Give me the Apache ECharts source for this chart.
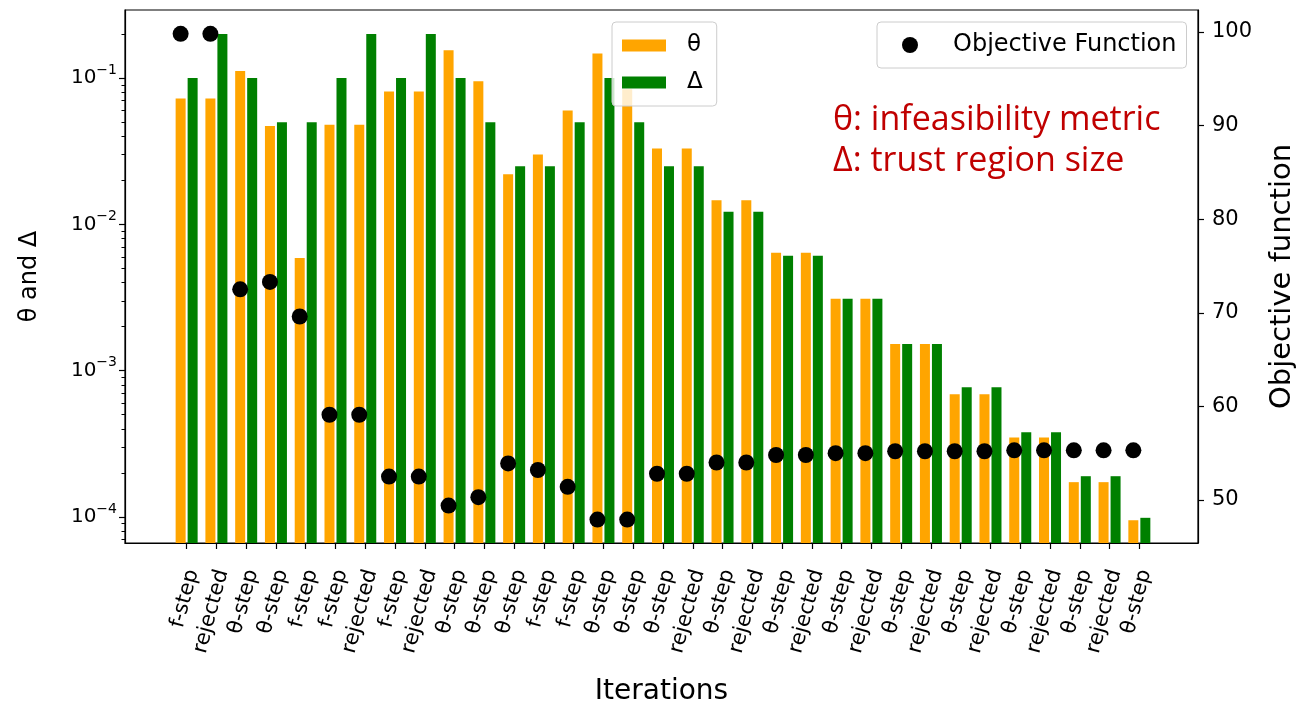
<!DOCTYPE html>
<html><head><meta charset="utf-8">
<script src="https://cdn.jsdelivr.net/npm/echarts@6/dist/echarts.min.js"></script>
<style>html,body{margin:0;padding:0;background:#fff}#c{width:1297px;height:707px}</style>
</head><body><div id="c"></div>
<script>
const categories = ['f-step','rejected','θ-step','θ-step','f-step','f-step','rejected','f-step','rejected','θ-step','θ-step','θ-step','f-step','f-step','θ-step','θ-step','θ-step','rejected','θ-step','rejected','θ-step','rejected','θ-step','rejected','θ-step','rejected','θ-step','rejected','θ-step','rejected','θ-step','rejected','θ-step'];
const theta = [0.0726,0.0726,0.112,0.047,0.0059,0.048,0.048,0.081,0.081,0.155,0.095,0.022,0.030,0.060,0.147,0.084,0.033,0.033,0.0146,0.0146,0.0064,0.0064,0.0031,0.0031,0.00152,0.00152,0.00069,0.00069,0.00035,0.00035,0.000173,0.000173,0.000095];
const delta = [0.1,0.2,0.1,0.05,0.05,0.1,0.2,0.1,0.2,0.1,0.05,0.025,0.025,0.05,0.1,0.05,0.025,0.025,0.0122,0.0122,0.0061,0.0061,0.0031,0.0031,0.00152,0.00152,0.00077,0.00077,0.00038,0.00038,0.00019,0.00019,0.0000987];
const objective = [99.8,99.8,72.5,73.3,69.6,59.1,59.1,52.5,52.5,49.4,50.3,53.9,53.2,51.4,47.9,47.9,52.8,52.8,54.0,54.0,54.8,54.8,55.0,55.0,55.2,55.2,55.2,55.2,55.3,55.3,55.3,55.3,55.3];
const leftMajorTicks = [1e-4,1e-3,1e-2,1e-1];
const leftMinorTicks = [7e-5,8e-5,9e-5,2e-4,3e-4,4e-4,5e-4,6e-4,7e-4,8e-4,9e-4,2e-3,3e-3,4e-3,5e-3,6e-3,7e-3,8e-3,9e-3,2e-2,3e-2,4e-2,5e-2,6e-2,7e-2,8e-2,9e-2,2e-1];
const rightTicks = [50,60,70,80,90,100];

const idx = categories.map((_, i) => i);
const FONT = 'DejaVu Sans';
const Y_MIN = 6.64e-5, Y_MAX = 0.292;
const X_MIN = -2.07, X_MAX = 33.97;
const LABEL_SHIFT = 0.2;

const chart = echarts.init(document.getElementById('c'), null, {renderer: 'canvas'});
const option = {
  animation: false,
  grid: {left: 125, right: 99, top: 10, bottom: 164, outerBoundsMode: 'none', containLabel: false,
         show: true, borderColor: '#000', borderWidth: 1.2, backgroundColor: 'transparent'},
  xAxis: [
    {type: 'value', min: X_MIN, max: X_MAX, position: 'bottom',
     axisLine: {show: true, onZero: false, lineStyle: {color: '#000', width: 1.2}},
     axisTick: {show: true, customValues: idx, length: 6, lineStyle: {color: '#000', width: 1.2}},
     axisLabel: {show: false}, splitLine: {show: false},
     name: 'Iterations', nameLocation: 'middle', nameGap: 135,
     nameTextStyle: {fontFamily: FONT, fontSize: 28, color: '#000'}},
    {type: 'value', min: X_MIN - LABEL_SHIFT, max: X_MAX - LABEL_SHIFT, position: 'bottom',
     axisLine: {show: false, onZero: false}, axisTick: {show: false}, splitLine: {show: false},
     axisLabel: {customValues: idx, formatter: v => categories[v], rotate: 75, margin: 27,
                 fontSize: 21, fontFamily: FONT, color: '#000'}}
  ],
  yAxis: [
    {type: 'log', min: Y_MIN, max: Y_MAX, position: 'left', startValue: Y_MIN,
     axisLine: {show: true, onZero: false, lineStyle: {color: '#000', width: 1.2}},
     axisTick: {show: true, customValues: leftMajorTicks, length: 6, lineStyle: {color: '#000', width: 1.2}},
     axisLabel: {customValues: leftMajorTicks, margin: 8,
       formatter: v => { const e = Math.round(Math.log10(v)); return '{b|10}{s|' + (e < 0 ? '\u2212' : '') + Math.abs(e) + '}'; },
       rich: {b: {fontSize: 20, fontFamily: FONT, color: '#000', lineHeight: 30},
              s: {fontSize: 14, fontFamily: FONT, color: '#000', lineHeight: 16, verticalAlign: 'top'}}},
     splitLine: {show: false},
     name: 'θ and Δ', nameLocation: 'middle', nameGap: 83,
     nameTextStyle: {fontFamily: FONT, fontSize: 24, color: '#000'}},
    {type: 'log', min: Y_MIN, max: Y_MAX, position: 'left', startValue: Y_MIN, offset: 0,
     axisLine: {show: false, onZero: false}, axisLabel: {show: false}, splitLine: {show: false},
     axisTick: {show: true, customValues: leftMinorTicks, length: 3.5, lineStyle: {color: '#000', width: 1}}},
    {type: 'value', min: 45.4, max: 102.35, position: 'right',
     axisLine: {show: true, onZero: false, lineStyle: {color: '#000', width: 1.2}},
     axisTick: {show: true, customValues: rightTicks, length: 6, lineStyle: {color: '#000', width: 1.2}},
     axisLabel: {customValues: rightTicks, margin: 14, fontSize: 21, fontFamily: FONT, color: '#000'},
     splitLine: {show: false},
     name: 'Objective function', nameLocation: 'middle', nameGap: 70,
     nameTextStyle: {fontFamily: FONT, fontSize: 29, color: '#000'}}
  ],
  legend: [
    {data: ['θ', 'Δ'], orient: 'vertical', left: 612, top: 22, padding: [12, 14, 12, 10],
     itemWidth: 44, itemHeight: 12, itemGap: 14, icon: 'rect',
     textStyle: {fontFamily: FONT, fontSize: 23, color: '#000', padding: [0, 0, 0, 16]},
     borderColor: '#ccc', borderWidth: 1, borderRadius: 4, backgroundColor: 'rgba(255,255,255,0.8)'},
    {data: [{name: 'Objective Function', icon: 'circle'}], left: 877, top: 22, padding: [11, 10, 11, 25],
     itemWidth: 16, itemHeight: 16,
     textStyle: {fontFamily: FONT, fontSize: 24, color: '#000', padding: [0, 0, 0, 30]},
     borderColor: '#ccc', borderWidth: 1, borderRadius: 4, backgroundColor: 'rgba(255,255,255,0.8)'}
  ],
  graphic: [
    {type: 'text', left: 833, top: 100, z: 10,
     style: {text: 'θ: infeasibility metric\nΔ: trust region size', font: '34px "Open Sans"', fill: '#c00000', lineHeight: 41}}
  ],
  series: [
    {name: 'θ', type: 'bar', xAxisIndex: 0, yAxisIndex: 0, barWidth: 10, barGap: '20%',
     itemStyle: {color: '#FFA500'}, data: idx.map(i => [i, theta[i]])},
    {name: 'Δ', type: 'bar', xAxisIndex: 0, yAxisIndex: 1, barWidth: 10, barGap: '20%',
     itemStyle: {color: '#008000'}, data: idx.map(i => [i, delta[i]])},
    {name: 'Objective Function', type: 'scatter', xAxisIndex: 0, yAxisIndex: 2, symbolSize: 16,
     symbolOffset: [-6, 0], z: 5, itemStyle: {color: '#000', opacity: 1}, data: idx.map(i => [i, objective[i]])}
  ]
};
chart.setOption(option);
</script></body></html>
